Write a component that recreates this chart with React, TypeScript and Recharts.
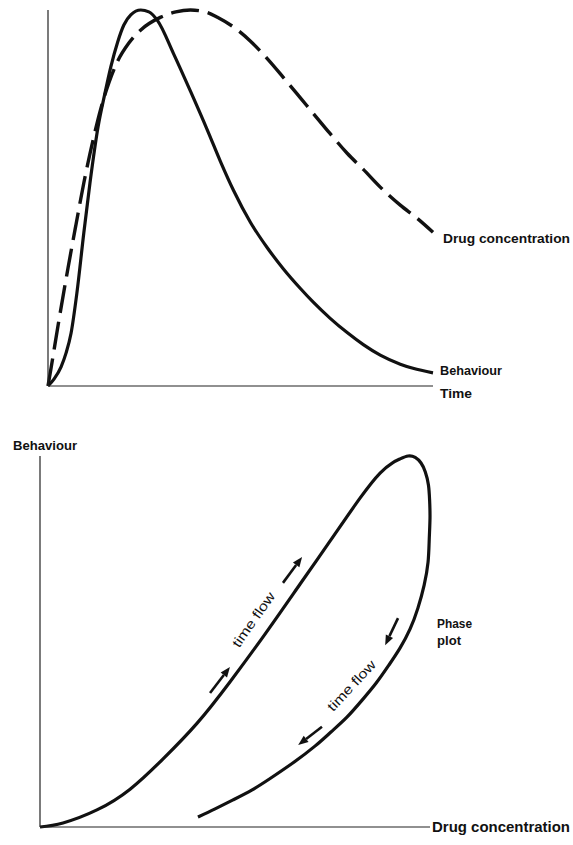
import { LineChart, Line, XAxis, YAxis, ReferenceLine } from 'recharts';

// top panel: time course (time 0-100, response 0-100)
const behaviourTime = [0, 1.6, 3.4, 4.7, 6.0, 7.5, 9.3, 10.9, 13.0, 14.8, 16.3, 18.1, 19.7, 21.5, 24.1, 26.2, 28.5, 32.6, 37.0, 41.5, 44.8, 48.2, 52.6, 57.0, 61.1, 65.5, 68.9, 73.3, 77.7, 81.9, 86.3, 91.5, 94.8, 100];
const behaviourValue = [0, 1.9, 5.1, 8.8, 14.1, 24.7, 40.7, 54.0, 68.9, 77.9, 84.8, 91.5, 96.0, 98.7, 100, 99.5, 97.1, 88.4, 78.4, 67.8, 59.7, 52.0, 43.5, 36.7, 31.2, 26.0, 22.3, 18.0, 14.2, 11.0, 8.2, 5.8, 4.7, 3.5];

const concTime = [0, 0.8, 2.6, 5.2, 7.3, 9.3, 11.7, 13.7, 15.8, 18.1, 21.0, 24.1, 29.3, 33.2, 37.0, 40.9, 44.0, 49.2, 52.6, 57.0, 61.1, 65.5, 68.9, 73.3, 77.7, 81.9, 86.3, 91.5, 95.9, 100];
const concValue = [0, 4.8, 16.0, 31.4, 43.1, 54.0, 65.4, 73.7, 80.6, 86.4, 91.2, 94.7, 98.1, 99.5, 100, 99.5, 98.1, 94.7, 91.7, 87.0, 82.1, 76.7, 72.5, 67.1, 61.9, 57.6, 52.9, 48.1, 44.6, 40.9];

// bottom panel: phase plot, points in drawing order
const phaseConc = [0, 5.9, 14.6, 23.1, 31.5, 40.3, 48.7, 57.7, 66.7, 74.4, 82.1, 87.2, 90.3, 92.3, 94.4, 96.2, 97.7, 98.8, 99.6, 99.9, 100, 99.8, 99.5, 98.5, 96.9, 94.9, 92.3, 89.5, 86.2, 82.6, 78.7, 74.6, 70.5, 64.9, 59.2, 54.4, 49.5, 44.9, 40.5];
const phaseBehaviour = [0, 1.1, 4.6, 10.2, 18.3, 28.0, 39.1, 52.0, 65.5, 77.1, 88.7, 95.4, 98.1, 99.2, 100, 99.6, 98.1, 95.7, 92.2, 88.1, 83.3, 77.4, 71.4, 65.2, 59.0, 53.4, 48.2, 43.7, 38.8, 34.2, 29.6, 25.6, 21.8, 17.3, 13.2, 10.0, 7.3, 4.9, 2.7];

// direction arrows [fromConc, fromBeh, toConc, toBeh]
const arrows = [
  [43.6, 36.1, 48.7, 43.1],
  [62.3, 65.8, 67.2, 72.8],
  [91.8, 56.3, 88.5, 49.0],
  [72.3, 27.0, 66.2, 22.1],
];

const behaviourData = behaviourTime.map((t, i) => ({ t, v: behaviourValue[i] }));
const concData = concTime.map((t, i) => ({ t, v: concValue[i] }));
const phaseData = phaseConc.map((c, i) => ({ c, b: phaseBehaviour[i] }));

const ink = '#111';
const axisStyle = { stroke: '#222', strokeWidth: 1.2 };
const labelFont = "'Liberation Sans', Arial, sans-serif";

const Arrow = (props: any) => {
  const { x1, y1, x2, y2 } = props;
  const a = Math.atan2(y2 - y1, x2 - x1);
  const len = 10;
  const w = 4;
  const bx = x2 - len * Math.cos(a);
  const by = y2 - len * Math.sin(a);
  const px = -Math.sin(a) * w;
  const py = Math.cos(a) * w;
  return (
    <g>
      <line x1={x1} y1={y1} x2={bx} y2={by} stroke={ink} strokeWidth={2.6} />
      <polygon points={`${x2},${y2} ${bx + px},${by + py} ${bx - px},${by - py}`} fill={ink} />
    </g>
  );
};

const Label = ({ x, y, w, children, size = 13 }: any) => (
  <text x={x} y={y} fontFamily={labelFont} fontWeight={700} fontSize={size} fill={ink}
    textLength={w} lengthAdjust="spacingAndGlyphs">{children}</text>
);

const FlowText = ({ cx, cy, angle }: any) => (
  <text x={cx} y={cy + 4} transform={`rotate(${angle} ${cx} ${cy})`} textAnchor="middle"
    fontFamily="'Liberation Sans', Arial, sans-serif" fontSize={13.5} fill={ink} textLength={64}
    lengthAdjust="spacingAndGlyphs">time flow</text>
);

export default function App() {
  return (
    <div style={{ position: 'absolute', left: 0, top: 0, width: 573, height: 845, background: '#fff' }}>
      <div style={{ position: 'absolute', left: 0, top: 0 }}>
        <LineChart width={573} height={420} margin={{ top: 10, right: 140, bottom: 33, left: 47 }}>
          <XAxis type="number" dataKey="t" domain={[0, 100]} tick={false} tickLine={false} axisLine={axisStyle} height={1} />
          <YAxis type="number" domain={[0, 100]} tick={false} tickLine={false} axisLine={axisStyle} width={1} />
          <Line data={concData} dataKey="v" type="monotone" stroke={ink} strokeWidth={3.4}
            strokeDasharray="28 9" dot={false} isAnimationActive={false} />
          <Line data={behaviourData} dataKey="v" type="monotone" stroke={ink} strokeWidth={3.2}
            dot={false} isAnimationActive={false} />
        </LineChart>
      </div>
      <div style={{ position: 'absolute', left: 0, top: 420 }}>
        <LineChart width={573} height={425} data={phaseData} margin={{ top: 36, right: 143, bottom: 17, left: 39 }}>
          <XAxis type="number" dataKey="c" domain={[0, 100]} tick={false} tickLine={false} axisLine={axisStyle} height={1} />
          <YAxis type="number" domain={[0, 100]} tick={false} tickLine={false} axisLine={axisStyle} width={1} />
          <Line dataKey="b" type="natural" stroke={ink} strokeWidth={3.2} dot={false} isAnimationActive={false} />
          {arrows.map((a, i) => (
            <ReferenceLine key={i} segment={[{ x: a[0], y: a[1] }, { x: a[2], y: a[3] }]} shape={Arrow} />
          ))}
        </LineChart>
      </div>
      <svg width={573} height={845} style={{ position: 'absolute', left: 0, top: 0, pointerEvents: 'none' }}>
        <Label x={443} y={243} w={127}>Drug concentration</Label>
        <Label x={440} y={375} w={62}>Behaviour</Label>
        <Label x={440} y={398} w={32}>Time</Label>
        <Label x={13} y={450} w={64}>Behaviour</Label>
        <Label x={437} y={628} w={35}>Phase</Label>
        <Label x={437} y={645} w={24}>plot</Label>
        <Label x={432} y={832} w={138} size={14}>Drug concentration</Label>
        <FlowText cx={254} cy={620} angle={-55} />
        <FlowText cx={352} cy={686} angle={-47} />
      </svg>
    </div>
  );
}
